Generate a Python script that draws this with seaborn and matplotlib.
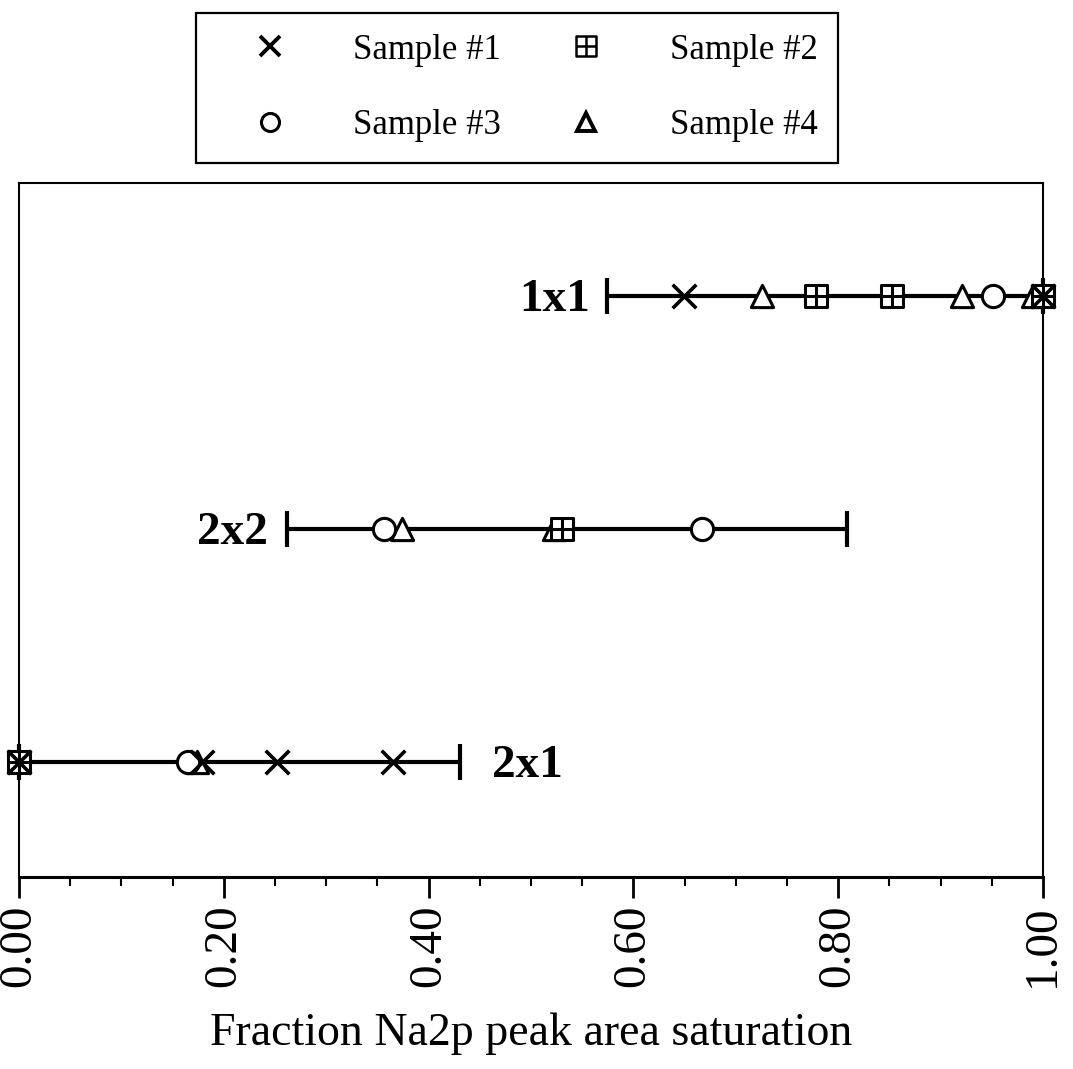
import numpy as np
import pandas as pd
import matplotlib
matplotlib.use("Agg")
import matplotlib.pyplot as plt
from matplotlib.path import Path
from matplotlib.lines import Line2D
from matplotlib.ticker import MultipleLocator, FormatStrFormatter
import seaborn as sns

# ---------------- data ----------------
categories = ["2x1", "2x2", "1x1"]          # bottom to top
range_low = [0.0, 0.262, 0.574]
range_high = [0.431, 0.809, 1.0]

sample1_cat = ["2x1", "2x1", "2x1", "2x1", "1x1", "1x1"]
sample1_val = [0.0, 0.179, 0.252, 0.365, 0.649, 1.0]

sample2_cat = ["2x1", "2x2", "1x1", "1x1", "1x1"]
sample2_val = [0.0, 0.530, 0.778, 0.853, 1.0]

sample3_cat = ["2x1", "2x2", "2x2", "1x1"]
sample3_val = [0.165, 0.356, 0.667, 0.951]

sample4_cat = ["2x1", "2x2", "2x2", "1x1", "1x1", "1x1"]
sample4_val = [0.174, 0.374, 0.522, 0.726, 0.921, 0.99]

sample_names = ["Sample #1", "Sample #2", "Sample #3", "Sample #4"]
x_ticks = [0.0, 0.2, 0.4, 0.6, 0.8, 1.0]
x_label = "Fraction Na2p peak area saturation"

# ---------------- style ----------------
sns.set_theme(style="white")
plt.rcParams["font.family"] = ["Liberation Serif", "DejaVu Serif"]
plt.rcParams["text.color"] = "black"
plt.rcParams["axes.labelcolor"] = "black"
plt.rcParams["xtick.color"] = "black"

fig = plt.figure(figsize=(10.73, 10.69), dpi=100)
ax = fig.add_axes([0.0177, 0.1796, 0.9543, 0.6492])

pos = {c: i for i, c in enumerate(categories)}

# square with plus marker
sq_plus = Path(
    [(-1, -1), (1, -1), (1, 1), (-1, 1), (-1, -1),
     (0, -1), (0, 1), (-1, 0), (1, 0)],
    [Path.MOVETO, Path.LINETO, Path.LINETO, Path.LINETO, Path.CLOSEPOLY,
     Path.MOVETO, Path.LINETO, Path.MOVETO, Path.LINETO],
)

# range bars
mids = [(l + h) / 2 for l, h in zip(range_low, range_high)]
halfs = [(h - l) / 2 for l, h in zip(range_low, range_high)]
ax.errorbar(mids, [pos[c] for c in categories], xerr=halfs, fmt="none",
            ecolor="black", elinewidth=3, capsize=13, capthick=3,
            clip_on=False, zorder=2)

def draw(cats, vals, marker, size, lw, z, filled=True):
    df = pd.DataFrame({"x": vals, "y": [pos[c] for c in cats]})
    if filled:
        sns.scatterplot(data=df, x="x", y="y", marker=marker, s=size ** 2,
                        facecolor="white", edgecolor="black", linewidth=lw,
                        ax=ax, zorder=z, clip_on=False, legend=False)
    else:
        sns.scatterplot(data=df, x="x", y="y", marker=marker, s=size ** 2,
                        color="black", linewidth=lw,
                        ax=ax, zorder=z, clip_on=False, legend=False)

draw(sample4_cat, sample4_val, "^", 16, 2.2, 3)
draw(sample3_cat, sample3_val, "o", 16, 2.2, 4)
draw(sample2_cat, sample2_val, sq_plus, 16, 2.2, 5)
draw(sample1_cat, sample1_val, "x", 17, 2.6, 6, filled=False)

# row labels
label_fs = 34
ax.annotate("1x1", xy=(range_low[2], pos["1x1"]), xytext=(-12, -3),
            textcoords="offset points", ha="right", va="center",
            fontsize=label_fs, fontweight="bold", color="black")
ax.annotate("2x2", xy=(range_low[1], pos["2x2"]), xytext=(-14, -3),
            textcoords="offset points", ha="right", va="center",
            fontsize=label_fs, fontweight="bold", color="black")
ax.annotate("2x1", xy=(range_high[0], pos["2x1"]), xytext=(23, -3),
            textcoords="offset points", ha="left", va="center",
            fontsize=label_fs, fontweight="bold", color="black")

# axes
ax.set_xlim(0, 1)
ax.set_ylim(-0.495, 2.486)
ax.set_yticks([])
ax.set_ylabel("")
ax.set_xticks(x_ticks)
ax.xaxis.set_minor_locator(MultipleLocator(0.05))
ax.xaxis.set_major_formatter(FormatStrFormatter("%.2f"))
ax.tick_params(axis="x", which="major", bottom=True, direction="out",
               length=15, width=2, color="black", labelsize=34,
               labelrotation=90, pad=5, labelcolor="black")
ax.tick_params(axis="x", which="minor", bottom=True, direction="out",
               length=6.5, width=1.5, color="black")
ax.set_xlabel(x_label, fontsize=33, color="black", labelpad=18)
for side, sp in ax.spines.items():
    sp.set_visible(True)
    sp.set_color("black")
    sp.set_linewidth(1.5)
ax.spines["bottom"].set_linewidth(2.2)

# legend
handles = [
    Line2D([], [], linestyle="none", marker="x", markersize=14, mew=2.8, color="black"),
    Line2D([], [], linestyle="none", marker=sq_plus, markersize=14, mew=1.8,
           markerfacecolor="white", markeredgecolor="black"),
    Line2D([], [], linestyle="none", marker="o", markersize=13, mew=2.2,
           markerfacecolor="white", markeredgecolor="black"),
    Line2D([], [], linestyle="none", marker="^", markersize=13, mew=2.8,
           markerfacecolor="white", markeredgecolor="black"),
]
order = [0, 2, 1, 3]
leg = fig.legend([handles[i] for i in order], [sample_names[i] for i in order],
                 ncol=2, loc="center", bbox_to_anchor=(0.482, 0.9177),
                 fontsize=25, frameon=True, fancybox=False, shadow=False,
                 framealpha=1, edgecolor="black", handlelength=3.03,
                 handletextpad=0.88, columnspacing=0.95, labelspacing=1.23,
                 borderpad=0.6, labelcolor="black")
leg.get_frame().set_linewidth(1.6)

fig.savefig("out.png", dpi=100, facecolor="white")
